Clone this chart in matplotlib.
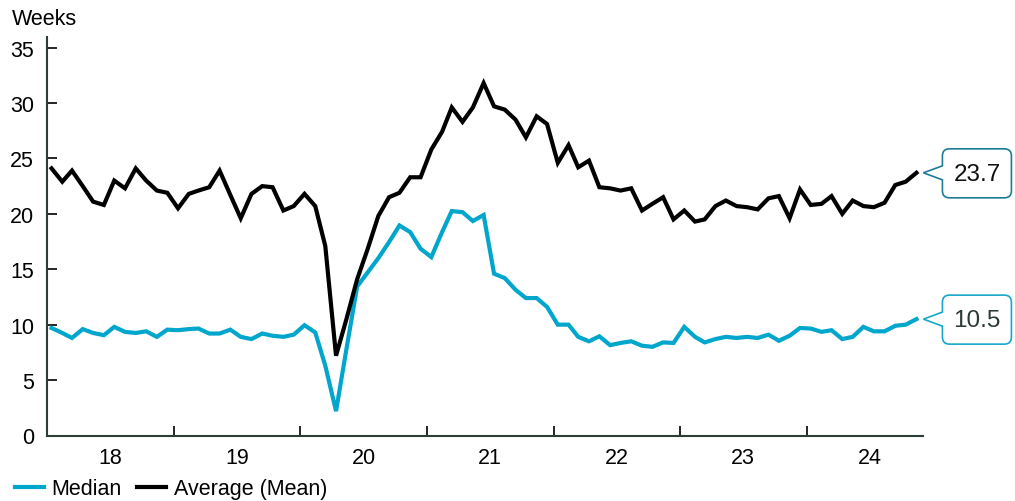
import numpy as np
import pandas as pd
import matplotlib
matplotlib.use("Agg")
import matplotlib.pyplot as plt
import matplotlib.dates as mdates
from matplotlib.path import Path
from matplotlib.patches import PathPatch
from matplotlib.transforms import IdentityTransform

plt.rcParams['font.family'] = ['Liberation Sans', 'DejaVu Sans']

# monthly data, Jan 2018 - Nov 2024 (weeks)
months = pd.date_range("2018-01-01", periods=83, freq="MS") + pd.Timedelta(days=12)

mean_weeks = [
    24.1, 22.9, 23.9, 22.5, 21.1, 20.8, 23.0, 22.3, 24.1, 23.0, 22.1, 21.9,
    20.5, 21.8, 22.1, 22.4, 23.9, 21.7, 19.6, 21.8, 22.5, 22.4, 20.3, 20.7,
    21.8, 20.7, 17.1, 7.2, 10.5, 14.1, 16.8, 19.8, 21.5, 21.9, 23.3, 23.3,
    25.8, 27.4, 29.6, 28.3, 29.6, 31.8, 29.7, 29.4, 28.5, 26.9, 28.8, 28.1,
    24.6, 26.2, 24.2, 24.8, 22.4, 22.3, 22.1, 22.3, 20.3, 20.9, 21.5, 19.5,
    20.3, 19.3, 19.5, 20.7, 21.2, 20.7, 20.6, 20.4, 21.4, 21.6, 19.6, 22.2,
    20.8, 20.9, 21.6, 20.0, 21.2, 20.7, 20.6, 21.0, 22.6, 22.9, 23.7,
]
median_weeks = [
    9.7, 9.25, 8.8, 9.6, 9.25, 9.05, 9.8, 9.35, 9.25, 9.4, 8.9, 9.55,
    9.5, 9.6, 9.65, 9.2, 9.2, 9.55, 8.9, 8.7, 9.2, 9.0, 8.9, 9.1,
    9.95, 9.3, 6.3, 2.2, 7.8, 13.45, 14.7, 16.0, 17.45, 18.95, 18.35, 16.85,
    16.1, 18.35, 20.25, 20.15, 19.35, 19.9, 14.6, 14.2, 13.15, 12.4, 12.4, 11.6,
    10.0, 10.0, 8.9, 8.5, 8.95, 8.15, 8.35, 8.5, 8.1, 8.0, 8.4, 8.35,
    9.8, 8.9, 8.4, 8.7, 8.9, 8.8, 8.9, 8.8, 9.1, 8.55, 9.0, 9.7,
    9.65, 9.35, 9.5, 8.7, 8.9, 9.8, 9.4, 9.4, 9.9, 10.0, 10.5,
]
year_labels = ["18", "19", "20", "21", "22", "23", "24"]

blue = "#00a6cb"
axis_col = "#2d3e35"
fs = 15.5

fig = plt.figure(figsize=(10.15, 5.02), dpi=100)
ax = fig.add_axes([46.7 / 1015, 65.5 / 502, (923 - 46.7) / 1015, 399 / 502])

ax.plot(months, median_weeks, color=blue, lw=3, label="Median", solid_joinstyle="miter")
ax.plot(months, mean_weeks, color="black", lw=3, label="Average (Mean)", solid_joinstyle="miter")

ax.set_ylim(0, 36)
ax.set_xlim(pd.Timestamp("2017-12-30"), pd.Timestamp("2024-12-02"))
ax.set_yticks(range(0, 36, 5))

# year boundaries as marks, labels centred in each year
ax.set_xticks([pd.Timestamp(f"{y}-01-01") for y in range(2019, 2025)])
ax.set_xticklabels([])
ax.set_xticks([pd.Timestamp(f"{y}-07-02") for y in range(2018, 2025)], minor=True)
ax.set_xticklabels(year_labels, minor=True)
ax.tick_params(axis="x", which="major", direction="in", length=7, width=1.2, color="black")
ax.tick_params(axis="x", which="minor", length=0, pad=8, labelsize=fs)
ax.tick_params(axis="y", direction="in", length=7, width=1.2, pad=9, labelsize=fs, color="black")

for s in ["top", "right"]:
    ax.spines[s].set_visible(False)
for s in ["left", "bottom"]:
    ax.spines[s].set_color(axis_col)
    ax.spines[s].set_linewidth(1.5)

fig.text(12 / 1015, 1 - 25 / 502, "Weeks", fontsize=fs, va="baseline", ha="left")

fig.legend(loc="center left", bbox_to_anchor=(15 / 1015, 12 / 502), ncol=2, frameon=False,
           fontsize=fs, handlelength=1.35, handletextpad=0.35, columnspacing=0.7,
           borderpad=0, borderaxespad=0)


# callout boxes with a notch pointing at the last value
def callout(value, date, edge, txt_col):
    px, py = ax.transData.transform((mdates.date2num(date), value))
    tx, ty = px + 7, py
    x0, x1, y0, y1, r, n = 19, 88, -25, 24, 7, 7
    verts = [(x0, n), (0, 0), (x0, -n), (x0, y0 + r), (x0, y0), (x0 + r, y0),
             (x1 - r, y0), (x1, y0), (x1, y0 + r), (x1, y1 - r), (x1, y1), (x1 - r, y1),
             (x0 + r, y1), (x0, y1), (x0, y1 - r), (x0, n)]
    codes = [Path.MOVETO, Path.LINETO, Path.LINETO, Path.LINETO, Path.CURVE3, Path.CURVE3,
             Path.LINETO, Path.CURVE3, Path.CURVE3, Path.LINETO, Path.CURVE3, Path.CURVE3,
             Path.LINETO, Path.CURVE3, Path.CURVE3, Path.CLOSEPOLY]
    verts = [(tx + vx, ty + vy) for vx, vy in verts]
    patch = PathPatch(Path(verts, codes), facecolor="white", edgecolor=edge, lw=1.2,
                      transform=IdentityTransform(), clip_on=False)
    fig.add_artist(patch)
    fig.text((tx + (x0 + x1) / 2) / 1015, (ty - 1) / 502, f"{value:.1f}", fontsize=17.5,
             color=txt_col, ha="center", va="center")


callout(mean_weeks[-1], months[-1], "#1e7d96", "#111111")
callout(median_weeks[-1], months[-1], "#16a8cc", "#2b3a33")

fig.savefig("out.png", dpi=100)
